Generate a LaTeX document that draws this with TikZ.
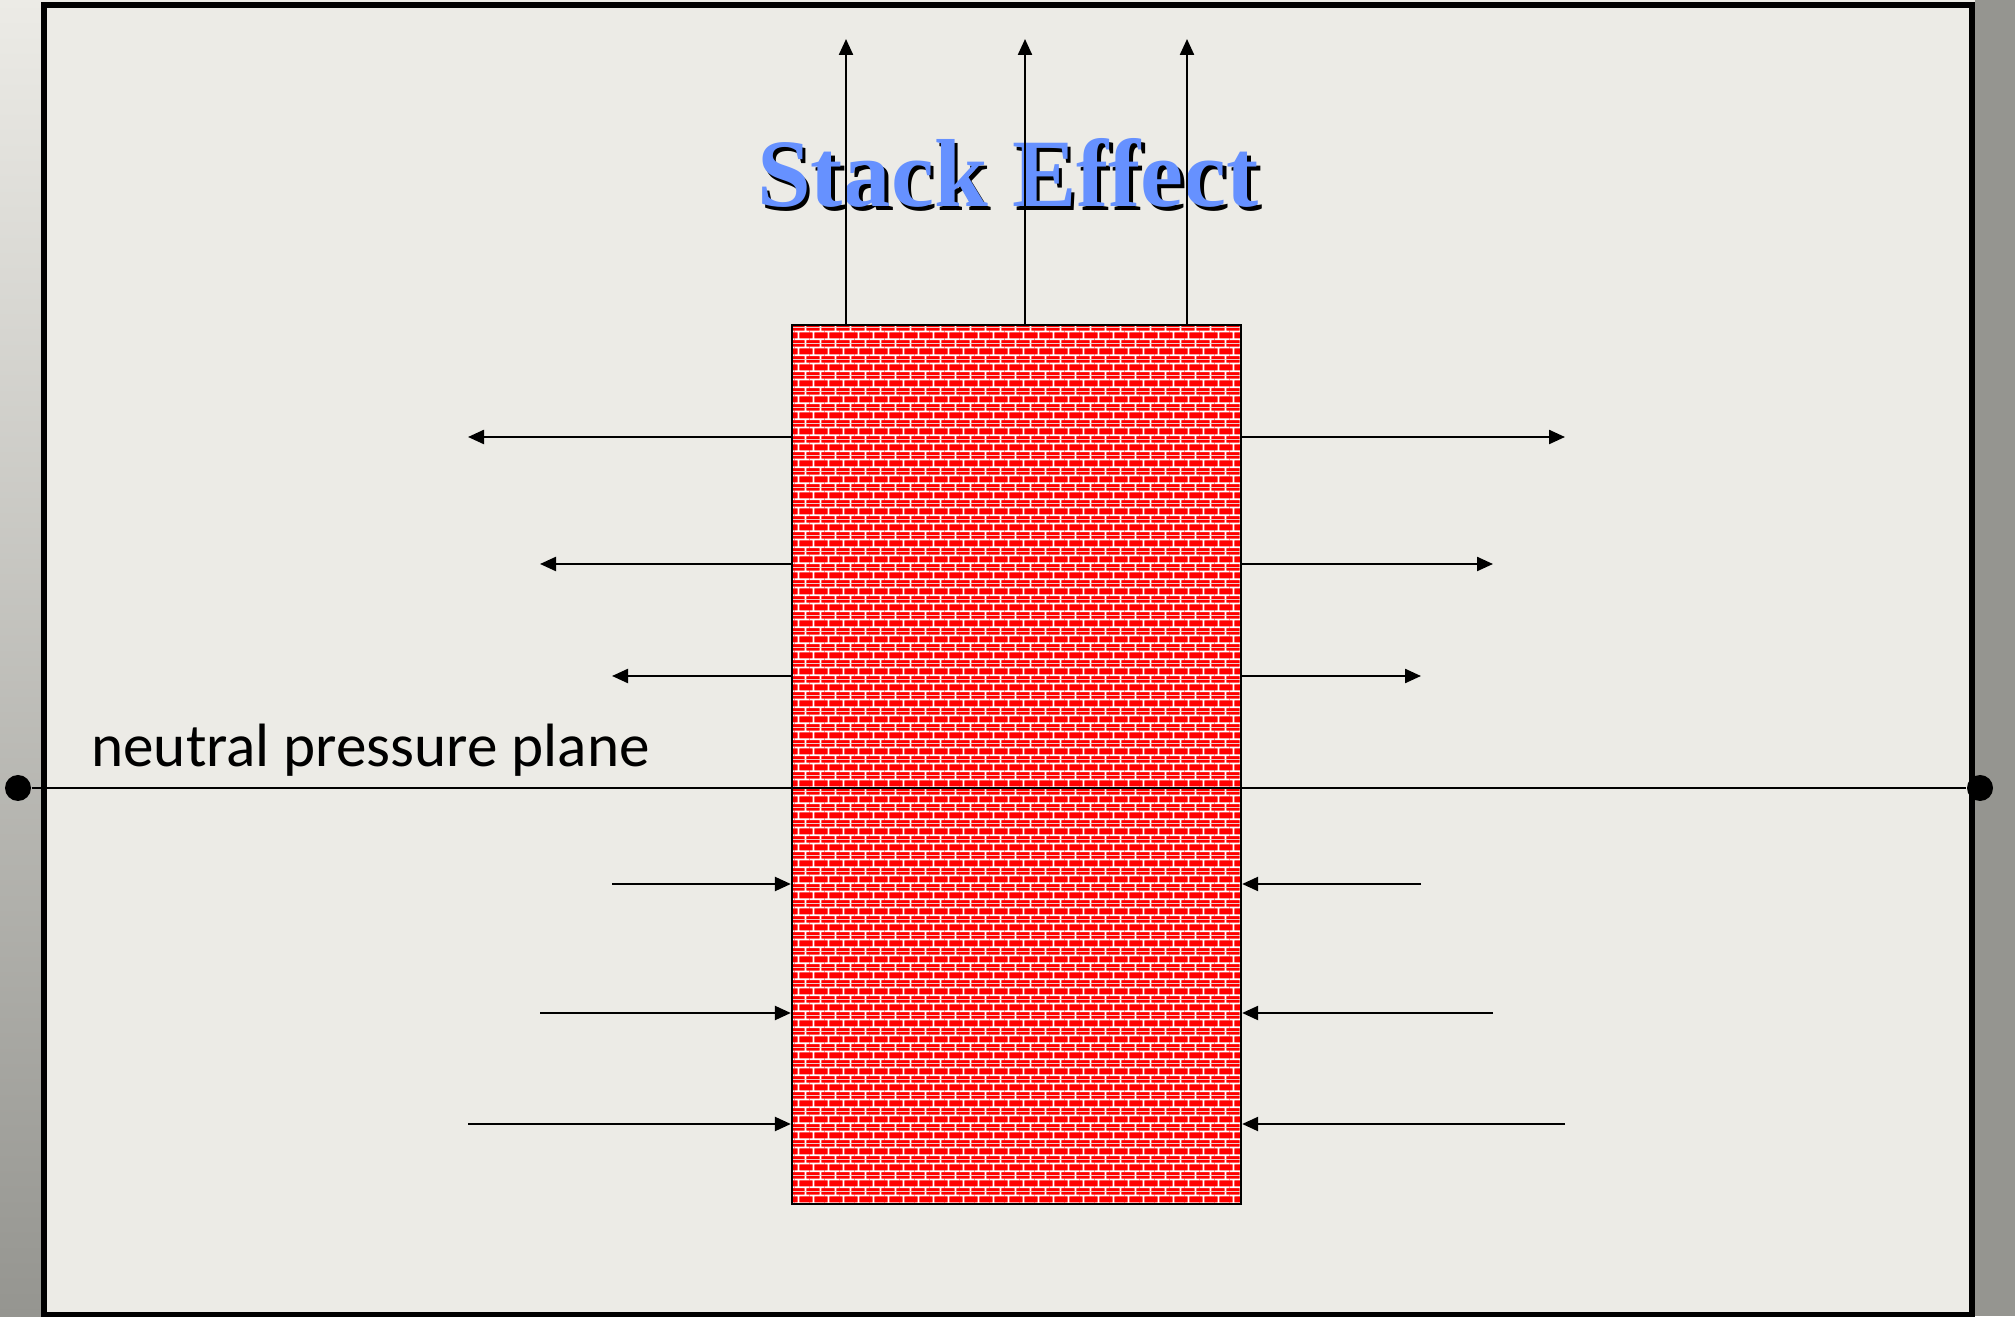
\documentclass[tikz,border=0pt]{standalone}
\usepackage{fontspec}
\setmainfont{Liberation Serif}
\newfontfamily\handfont{Carlito}
\usepackage{xcolor}
\usetikzlibrary{arrows.meta, positioning, patterns.meta}

\definecolor{slidebg}{RGB}{236,235,230}
\definecolor{edgegray}{RGB}{149,149,144}
\definecolor{titleblue}{RGB}{102,145,255}

\tikzdeclarepattern{
  name=brickwall,
  type=colored,
  bottom left={(0pt,0pt)},
  top right={(4.27pt,4.44pt)},
  tile size={(4.27pt,4.44pt)},
  code={
    \fill[red] (0pt,0pt) rectangle (4.27pt,4.44pt);
    \draw[white, line width=0.5pt]
      (0pt,1.11pt) -- (4.27pt,1.11pt)
      (0pt,3.33pt) -- (4.27pt,3.33pt)
      (1.07pt,1.11pt) -- (1.07pt,3.33pt)
      (3.2pt,3.33pt) -- (3.2pt,4.44pt)
      (3.2pt,0pt) -- (3.2pt,1.11pt);
  }
}

\begin{document}
\begin{tikzpicture}[
        arrow/.style={-{Triangle[length=0.16cm, width=0.14cm]}, line width=0.65pt},
        wall/.style={rectangle, draw, line width=0.65pt, pattern=brickwall, inner sep=0pt, minimum width=4.49cm, minimum height=8.79cm},
        dot/.style={circle, fill=black, inner sep=0pt, minimum size=0.26cm},
        headline/.style={font=\bfseries\fontsize{27.5}{33}\selectfont, anchor=base},
        note/.style={font=\handfont\fontsize{17.4}{21}\selectfont, anchor=base west}
    ]
        \useasboundingbox (0,0) rectangle (20.15,13.16);

        % Slide background
        \fill[slidebg] (0,0) rectangle (20.15,13.16);
        \shade[top color=slidebg, bottom color=edgegray] (0,0) rectangle (0.41,13.16);
        \fill[edgegray] (19.75,0) rectangle (20.15,13.16);
        \draw[line width=0.06cm] (0.44,0.01) rectangle (19.72,13.11);

        % Title
        \node[headline, text=black] (titleshadow) at (10.115,11.055) {Stack Effect};
        \node[headline, text=titleblue] (title) at (10.08,11.09) {Stack Effect};

        % Stack
        \node[wall] (stack) at (10.165,5.515) {};

        % Arrow ends
        \coordinate (upA) at (8.46,12.77);
        \coordinate (upB) at (10.25,12.77);
        \coordinate (upC) at (11.87,12.77);
        \coordinate (outL1) at (4.68,8.79);
        \coordinate (outL2) at (5.40,7.52);
        \coordinate (outL3) at (6.12,6.40);
        \coordinate (outR1) at (15.65,8.79);
        \coordinate (outR2) at (14.93,7.52);
        \coordinate (outR3) at (14.21,6.40);
        \coordinate (inL1) at (6.12,4.32);
        \coordinate (inL2) at (5.40,3.03);
        \coordinate (inL3) at (4.68,1.92);
        \coordinate (inR1) at (14.21,4.32);
        \coordinate (inR2) at (14.93,3.03);
        \coordinate (inR3) at (15.65,1.92);

        % Arrows
        \draw[arrow] (stack.north -| upA) -- (upA);
        \draw[arrow] (stack.north -| upB) -- (upB);
        \draw[arrow] (stack.north -| upC) -- (upC);
        \draw[arrow] (stack.west |- outL1) -- (outL1);
        \draw[arrow] (stack.west |- outL2) -- (outL2);
        \draw[arrow] (stack.west |- outL3) -- (outL3);
        \draw[arrow] (stack.east |- outR1) -- (outR1);
        \draw[arrow] (stack.east |- outR2) -- (outR2);
        \draw[arrow] (stack.east |- outR3) -- (outR3);
        \draw[arrow] (inL1) -- (stack.west |- inL1);
        \draw[arrow] (inL2) -- (stack.west |- inL2);
        \draw[arrow] (inL3) -- (stack.west |- inL3);
        \draw[arrow] (inR1) -- (stack.east |- inR1);
        \draw[arrow] (inR2) -- (stack.east |- inR2);
        \draw[arrow] (inR3) -- (stack.east |- inR3);

        % Neutral plane
        \node[dot] (planeW) at (0.18,5.28) {};
        \node[dot] (planeE) at (19.80,5.28) {};
        \draw[line width=0.65pt] (planeW) -- (planeE);
        \node[note] (planelabel) at (0.79,5.49) {neutral pressure plane};
    \end{tikzpicture}
\end{document}
